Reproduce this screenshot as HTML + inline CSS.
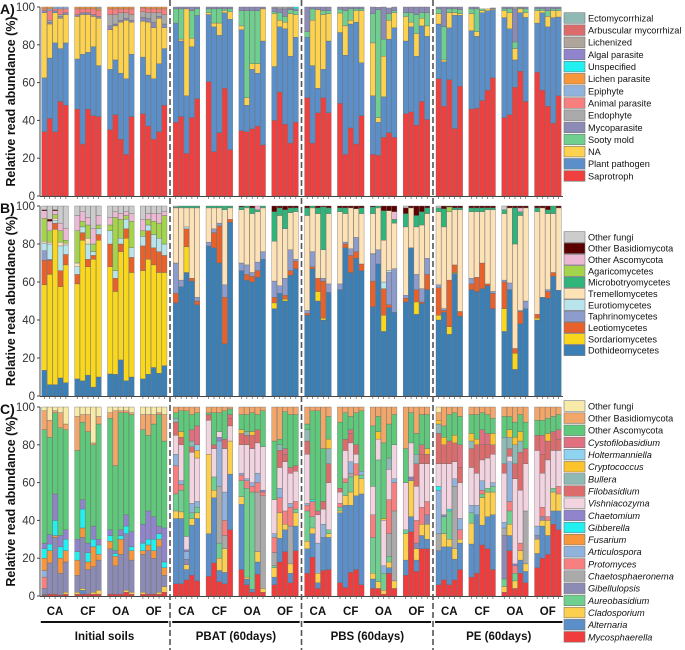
<!DOCTYPE html>
<html><head><meta charset="utf-8"><style>
html,body{margin:0;padding:0;background:#fff;}
svg{display:block;font-family:"Liberation Sans",Arial,sans-serif;}
</style></head><body>
<svg id="chart" width="685" height="650" viewBox="0 0 685 650" xmlns="http://www.w3.org/2000/svg"></svg>
<script>
// ---------- Panel A (functional guilds) ----------
const catsA = ["Saprotroph","Plant pathogen","NA","Sooty mold","Mycoparasite","Endophyte","Animal parasite","Epiphyte","Lichen parasite","Unspecified","Algal parasite","Lichenized","Arbuscular mycorrhizal","Ectomycorrhizal"];
const colorsA = ["#f03f3f","#5b8fc9","#fcd24f","#6fcf8f","#8b8bb5","#aaaaaa","#f77f7f","#8fb3dc","#f7963a","#22f0f0","#9085cc","#b0a59b","#dc6b6b","#8fb9b5"];
const saprotroph = [34,41,34,50,48, 46,27.5,46,42.5,42, 35,43,30,22,42, 43.5,37,30,34,48, 39,42,22.5,41.5,51.5, 60.5,23.5,33.5,57,24.5, 34.5,34,35.5,37,27, 40,55,38,28,39, 52,28,44,52,44, 49,22,36,27.5,42.5, 22,21.5,31,33.5,31, 43.5,44.5,37.5,50,40.5, 62,47.5,61.5,35.7,58, 46,46.5,50.5,56,62.5, 41.5,43,57.5,66,50, 65.5,56,47.5,38.5,53];
const plantPathogen = [28.5,32,47,28,33, 26.5,47.5,30,36.5,27, 32,29,35,40,33, 30,27,32,36,30, 52.5,40,30.5,37.5,44, 35.5,66,51.5,40,69, 53.5,14,31.5,28,55, 28.5,34.5,50.5,46,45, 32,41,13,15,38, 37.5,52.5,55,64.5,28, 31,17.5,21.5,49.5,58, 38.5,45,36.5,40,44, 29,23.5,27.5,59.9,37.6, 41.5,38,46.5,42,36, 52.9,45.5,14.5,31,44.5, 26,41,42,55.9,41.7];
const naGuild = [34.5,18,16,16,15, 22.5,21,20,16,25, 21,18,27,31,17, 19,28,27,24,11, 0,1,46,4.5,0, 1,2,6.5,1,4, 2,4,3,5,17, 28,3.5,3.5,22.5,12, 0,24,41.5,29,14.5, 10.3,15.5,2,6,27.5, 28,2.5,21.5,10,8, 13,2.5,12,4,5.5, 5.5,1,8,1.4,0.9, 9,2.5,1,1,0.5, 3.6,8.5,6,2,2.5, 6.5,1,5.5,3.6,3.3];
const sootyMold = [0,0,0,0,0, 0,0,0,0,0, 0,0,0,0,0, 0,0,0,0,0, 7.5,16,0,14.5,3.5, 2,7.5,7.5,1,1.5, 8,46,28,28,0, 1,4,3,2,2, 3,6,0,2,1.5, 2,8,6,1,1, 15.5,57,9,3.5,1, 2,5,10,3,7, 2.5,17.5,2,2,2, 2.5,12,1,0,0, 1,2,3.5,0.5,2, 1,1,3,1,1];
const mycoparasite = [1,1,1,1,1, 1,1,1,1,1, 2,1,1,1,1, 2,2,3,1,2, 1,1,1,2,1, 1,1,1,1,1, 2,2,2,2,1, 2,2,4,1,1, 13,1,1.5,2,2, 1.2,2,1,1,1, 3.5,1.4,17,3,2.5, 3,3,4,3,3, 1,10.5,1,1,1.5, 1,1,0,0,0.5, 1,1.5,17.5,0.5,1, 1,1,2,1,1];
const endophyte = [0,1,0,1,0, 0,0,0,0,0, 6,5,4,3,3, 3,3,5,2,5, 0,0,0,0,0, 0,0,0,0,0, 0,0,0,0,0, 0.5,1,1,0.5,0, 0,0,0,0,0, 0,0,0,0,0, 0,0,0,0,0, 0,0,0,0,0, 0,0,0,0,0, 0,0,0,0,0, 0,0,1,0,0, 0,0,0,0,0];
const animalParasite = [1,5,1,3,2, 3,2,2,3,3, 3,3,2,2,3, 2,2,2,2,3, 0,0,0,0,0, 0,0,0,0,0, 0,0,0,0,0, 0,0,0,0,0, 0,0,0,0,0, 0,0,0,0,0, 0,0,0,0,0, 0,0,0,0,0, 0,0,0,0,0, 0,0,0,0,0, 0,0,0,0,0, 0,0,0,0,0];
const epiphyte = [0,1,1,1,1, 0,0,0,0,0, 0,0,0,0,0, 0,0,0,0,0, 0,0,0,0,0, 0,0,0,0,0, 0,0,0,0,0, 0,0,0,0,0, 0,0,0,0,0, 0,0,0,0,0, 0,0,0,0,0, 0,0,0,0,0, 0,0,0,0,0, 0,0,0,0,0, 0,0,0,0,0, 0,0,0,0,0];
const lichenParasite = [1,1,0,0,0, 1,1,1,1,1, 1,1,1,1,1, 0.5,1,1,1,1, 0,0,0,0,0, 0,0,0,0,0, 0,0,0,0,0, 0,0,0,0,0, 0,0,0,0,0, 0,0,0,0,0, 0,0,0,0,0, 0,0,0,0,0, 0,0,0,0,0, 0,0,0,0,0, 0,0,0,0,0, 0,0,0,0,0];
const unspecified = [0,0,0,0,0, 0,0,0,0,0, 0,0,0,0,0, 0,0,0,0,0, 0,0,0,0,0, 0,0,0,0,0, 0,0,0,0,0, 0,0,0,0,1, 0,0,0,0,0, 0,0,0,0,0, 0,0,0,0,0, 0,0,0,0,0, 0,0,0,0,0, 0,0,0,0,0, 0,0,0,0,0, 0,0,0,0,0];
const algalParasite = [0,0,0,0,0, 0,0,0,0,0, 0,0,0,0,0, 0,0,0,0,0, 0,0,0,0,0, 0,0,0,0,0, 0,0,0,0,0, 0,0,0,0,0, 0,0,0,0,0, 0,0,0,0,0, 0,0,0,0,0, 0,0,0,0,0, 0,0,0,0,0, 0,0,0,0,0, 0,0,0,0,0, 0,0,0,0,0];
const lichenized = [0,0,0,0,0, 0,0,0,0,1, 0,0,0,0,0, 0,0,0,0,0, 0,0,0,0,0, 0,0,0,0,0, 0,0,0,0,0, 0,0,0,0,0, 0,0,0,0,0, 0,0,0,0,0, 0,0,0,0,0, 0,0,0,0,0, 0,0,0,0,0, 0,0,0,0,0, 0,0,0,0,0, 0,0,0,0,0];
const arbuscular = [0,0,0,0,0, 0,0,0,0,0, 0,0,0,0,0, 0,0,0,0,0, 0,0,0,0,0, 0,0,0,0,0, 0,0,0,0,0, 0,0,0,0,0, 0,0,0,0,0, 0,0,0,0,0, 0,0,0,0,0, 0,0,0,0,0, 0,0,0,0,0, 0,0,0,0,0, 0,0,0,0,0, 0,0,0,0,0];
const ectomycorrhizal = [0,0,0,0,0, 0,0,0,0,0, 0,0,0,0,0, 0,0,0,0,0, 0,0,0,0,0, 0,0,0,0,0, 0,0,0,0,0, 0,0,0,0,0, 0,0,0,0,0, 0,0,0,0,0, 0,0,0,0,0, 0,0,0,0,0, 0,0,0,0,0, 0,0,0,0,0, 0,0,0,0,0, 0,0,0,0,0];
const seriesA = [saprotroph,plantPathogen,naGuild,sootyMold,mycoparasite,endophyte,animalParasite,epiphyte,lichenParasite,unspecified,algalParasite,lichenized,arbuscular,ectomycorrhizal];

// ---------- Panel B (classes) ----------
const catsB = ["Dothideomycetes","Sordariomycetes","Leotiomycetes","Taphrinomycetes","Eurotiomycetes","Tremellomycetes","Microbotryomycetes","Agaricomycetes","Other Ascomycota","Other Basidiomycota","Other fungi"];
const colorsB = ["#3a7fb5","#f9d71c","#e8602a","#8c9ccc","#b8e4ec","#fde2b8","#2fb57a","#a3d44c","#ecb8d4","#5a0000","#cccccc"];
const dothideomycetes = [13.5,6,6,9.5,7, 9,8,11,4.7,10, 11.6,11.4,19,8,10, 9,11.5,15,12,16, 49,57.5,65,60.5,48, 79,78,70,27.5,91.5, 66,61,60,62.5,72, 46,54,50,63.5,67, 42.5,67,50,40,54.5, 56,78,65,72.5,66, 47,69.5,34,46.5,44, 49.5,78,43,48.7,56, 40,44,32.5,64.5,42, 56,55,56.5,58,46, 34,56,14,38,46, 40,52,51.5,63,55.7];
const sordariomycetes = [45,58,81.7,48,62, 50,74,57,67.3,72, 56.4,43.6,57,75,55, 57,60.5,54,53,49, 0,0,13.5,0,0, 0,0,0,0,0, 0,0,0,0,0, 3,0,1,0,0, 0,0,5,1,0, 0,0,0,0,0, 0,0,8.5,0,0, 0,0,6.5,0,0, 2.5,0,4,0.5,0, 0,0,0,0,0, 12,0,8.5,0,0, 1,0,0,0,0];
const leotiomycetes = [13,7.5,3.3,8.5,5.5, 5,4,4,2,3, 12,7,4,5,8, 13,15,9,11,9, 5,0,9.5,1.5,2, 0,8,19.5,24.5,1.5, 0,3,3,3.5,0, 3,0,2,2.5,4, 1,1,7,19.5,0, 0,2,9,3.5,3.5, 13.5,0,14,1.5,0, 2,0,6.5,0.8,8, 14.5,1,24.5,4,2.5, 3,7.5,13.5,1,8, 14,0,2.5,6.5,0, 2,0,3.5,2,0];
const taphrinomycetes = [5,0.5,0,0,0, 0,0,0,0,0, 0,0,0,0,0, 0,0,0,0,0, 16,3.5,0,0,2, 2,2,1.5,6.5,0, 4,5,2,4.5,4, 8.5,4,9,11,1, 1.5,8,0,1.5,4.5, 3,1,3.5,7.5,0, 14,7.5,0,17,23, 1.5,0,8,7,8.5, 1.5,1,0,0,0, 3,0,0,0,1, 1,3.5,0,0.5,4, 0,0,1,0,0];
const eurotiomycetes = [4,8,1.5,13,5, 4,3,8,2,3, 7,4,3,5,5, 5,3,7,7,6, 0,0,1,0,0, 0,0,0,0,0, 0,0,0,0,0, 0,0,0,0,0, 0,0,0,0,0, 0,0,0,0,0, 0.5,0,3.5,1,0, 0,0,0,0,0, 0,0,0,0,0, 0,0,0,0,0, 0,0,0,0,0, 0,0,0,0,0];
const tremellomycetes = [1,1,1,2,1, 2,0,3,0,0, 0,0,0,0,0, 0,0,0,0,0, 29,38,10,37,47, 18,11,8,39.5,6, 28,30,31,26.5,23, 21,37,26,19.5,25, 50,23,34,15,37, 38,15,21.5,15,26.5, 21,22,22,31.5,24, 36,21,25,33.5,23.5, 38.5,43,36,29,53.5, 35,34.5,27,39,43, 35,39.5,55,50,49, 54,47,40,31,43.3];
const microbotryomycetes = [0,0,0,0,0, 0,0,0,0,0, 0,0,0,0,0, 0,0,0,0,0, 0.5,1,1,1,1, 1,1,1,2,1, 1.5,1,3,1,1, 15.5,4,10,2.5,2, 4,1,3,22.5,3, 2,3,0,0,3, 3.5,1,15.5,0,2, 7,0,6,7,3, 2,9.5,0,1,1, 2,2,2,1,1, 2,0,19,2,0, 2,0,2,4,0];
const agaricomycetes = [12,6,2,6,1.5, 17,3,7,4,2, 3,28,10,2,14, 3,3,7,8,15, 0,0,0,0,0, 0,0,0,0,0, 0,0,0,0,0, 0,0,0,0,0, 0,0,0,0,0, 0,0,0,0,0, 0,0,0,0,0, 0,0,0,0,0, 0,0,2.5,0,0, 0,0,0,0,0, 0,0,0,0,0, 0,0,0,0,0];
const otherAscomycotaB = [4,5,2,4,6, 8,5,4,8,5, 4,3,3,2,4, 6,3,4,5,2, 0,0,0,0,0, 0,0,0,0,0, 0,0,0,2,0, 0,0,0,0,0, 0,0,0,0,0, 0,0,0,0,0, 0,0,0,0,4, 0,0,0,0,0, 0,0,0,0,0, 0,0,0,0,0, 0,0,0,2,0, 0,0,0,0,0];
const otherBasidiomycotaB = [0.5,1,0.5,0,0, 0,0,0,0,0, 0,0,0,0,0, 0,0,0,0,0, 0,0,0,0,0, 0,0,0,0,0, 0.5,0,1,0,0, 3,1,2,1,1, 1,0,1,0.5,1, 1,1,1,1.5,1, 0.5,0,2.5,2.5,3, 3,1,5,3,1, 0,1.5,0.5,1,1, 1,1,1,1,1, 0,1,1,1,1, 1,1,2,0,1];
const otherFungiB = [2,7,2,9,12, 5,3,6,12,5, 6,3,4,3,4, 7,4,4,4,3, 0.5,0,0,0,0, 0,0,0,0,0, 0,0,0,0,0, 0,0,0,0,0, 0,0,0,0,0, 0,0,0,0,0, 0,0,0,0,0, 1,0,0,0,0, 1,0,0,0,0, 0,0,0,0,0, 2,0,0,0,0, 0,0,0,0,0];
const seriesB = [dothideomycetes,sordariomycetes,leotiomycetes,taphrinomycetes,eurotiomycetes,tremellomycetes,microbotryomycetes,agaricomycetes,otherAscomycotaB,otherBasidiomycotaB,otherFungiB];

// ---------- Panel C (genera) ----------
const catsC = ["Mycosphaerella","Alternaria","Cladosporium","Aureobasidium","Gibellulopsis","Chaetosphaeronema","Protomyces","Articulospora","Fusarium","Gibberella","Chaetomium","Vishniacozyma","Filobasidium","Bullera","Cryptococcus","Holtermanniella","Cystofilobasidium","Other Ascomycota","Other Basidiomycota","Other fungi"];
const colorsC = ["#f03c3c","#5b8fc9","#fcd04e","#6fcf8f","#8b8bb5","#aaaaaa","#f77f7f","#8fb3dc","#f7963a","#22f0f0","#9085cc","#f2d3e0","#dc6b6b","#8fb9b5","#fbc42c","#8fd3f0","#e07080","#5ec97a","#f2a66a","#f8eaa8"];
const mycosphaerella = [0.5,1,1,0.5,1, 1,1,1,1,1, 1,1,1,2,1, 1,1,1,1,2, 6.5,6.5,8.5,11,8, 10.5,17.5,7.5,6.5,35, 14,6,2,11.5,2, 6,18,23.5,7,24, 12,20.5,4,13.5,14, 7,4.5,12.5,14,6, 4,4,1,12,4, 11,34,13,25,25, 6,8.5,6,8.5,14, 10,12,27,25,14, 2,24,4,12,7, 15,20,22,38,35];
const alternaria = [0.5,0,0,0,0, 0,2,0,0,0, 0,0,0,0,0, 0,0,0,0,0, 34.5,34.5,5.5,26.5,33, 22.5,34.5,6,6,29.5, 34.5,3,1.5,6.5,0, 4,12.5,11.5,5,13, 13,12.5,3,17.5,17, 37,43.5,35.5,39,48, 5,0,0,3,0, 8,8,6,7,5, 18,17.5,20,11,14, 17.5,31,10.5,17,29, 0,8,0,7,6, 7.5,17,10,7,10];
const cladosporium = [0,0,0,0,1, 1,1,0,1,2, 0,0,0,1,1, 1,0,0,1,3, 4,3.5,2.5,3.5,3, 42,4,6.5,12.5,17.5, 4,1,0,5.5,2, 5,13.5,3,5,7, 4,3,5,0,2, 1,5,7,11,8, 3,3.5,2,3,4, 14,19,6,6,8, 0,7,4,5.5,2, 11,0,14.5,13,12, 3,6,4,5,4, 7.5,3,8,10,9];
const aureobasidium = [0,0,0,0,0, 0,0,0,0,0, 0,0,0,0,0, 0,0,0,0,0, 9,11.5,0,3,3, 0,7,8,0,0, 8.5,47,51.5,0,0, 1,0,0,0,2, 16,6,0,0,2, 2,7,8,0,2, 19,64.5,9,3,0, 2,0,0,0,0, 0,9,15,0,0, 5.5,0,2,2,3, 4,7,4,0,0, 0,0,0,2,0];
const gibellulopsis = [3,16.5,30,11.5,16, 9,27,13,13.5,16, 24,15,21,30,17, 20,23,19,24,6, 0,0,3,0,0, 0,0,0,0,0, 0,0,0,0,0, 0,0,0,0,0, 0,0,0,0,0, 0,0,0,0,0, 0,0,0,0,0, 0,1,3,0,5, 0,0,0,0,0, 0,0,0,0,0, 23,0,0,0,0, 2,2,0,0,0];
const chaetosphaeronema = [0,0,0,0,0, 0,0,0,0,0, 0,0,0,0,0, 0,0,0,0,0, 0,0,0,0,0, 0,0,30,7,0, 0,0,0,31.5,49, 7,0,0,20,0, 0,0,0,0,0, 0,0,2,0,0, 0,0,0,12,37, 0,0,0,0,0, 9,0,0,33,0, 0,0,0,0,0, 4,0,0,0,28, 0,0,0,0,0];
const protomyces = [6,0,0,0,0, 0,0,0,0,0, 0,0,0,0,0, 0,0,0,0,0, 15,3,0,0,0, 0,0,0,8,0, 3,4,3,5,2, 8,8,7,10,4, 3,8,0,0,0, 2,2,0,6,0, 12,0,0,18,15, 0,0,12,9,7, 0,0,0,0,5, 0,0,2,0,0, 0,5,4,4,0, 0,5,2,0,4];
const articulospora = [3.5,0,0,0,0, 0,0,0,0,0, 0,0,0,0,0, 0,0,0,0,0, 6,2,4,5,3, 0,0,24,15,0, 1,1,2,5,0, 2,5,0,2,0, 1,0,16,7,0, 0,0,6,0,2, 0,0,4,0,2, 0,0,0,0,0, 23,0,0,4,6, 4,5,5,0,2, 3,21,0,0,0, 5,0,0,0,0];
const fusarium = [6.5,6.5,1,8,6, 8,5,4,10.5,3, 4,5,8,0,5, 2,3,4,4,4, 0,0,0,0,0, 0,0,0,0,0, 0,0,0,0,0, 0,0,0,0,0, 0,0,0,0,0, 0,0,0,0,0, 0,0,0,0,0, 0,0,0,0,0, 0,0,0,0,0, 0,0,0,0,0, 0,0,0,0,0, 0,0,0,0,0];
const gibberella = [5,3.5,8,6,6, 4.5,10,5,4,5, 3,1.5,2,4,2, 4,3,6,3,3, 0,0,0,0,0, 0,0,0,0,0, 0,0,0,0,0, 0,0,0,0,0, 0,1,0,0,0, 0,0,0,0,0, 0,0,0,0,0, 0,0,0,0,0, 2,0,1,0,0, 0,0,0,0,0, 0,0,0,0,0, 0,0,0,0,0];
const chaetomium = [3,5,14,6,5, 6.5,5,5,7,3, 3,1.5,3,6,8, 10,15,12,4,18, 0,0,1,0,0, 0,0,2,0,0, 0,0,0,0,1, 0,0,0,0,0, 0,0,0,0,0, 0,0,0,0,0, 0,0,0,0,0, 0,1,0,0,0, 0,1,0,0,0, 0,0,0,0,0, 0,0,1,0,0, 0,0,0,0,0];
const vishniacozyma = [0,0,0,0,0, 0,0,0,0,0, 0,0,0,0,0, 0,0,0,0,0, 10,19,7,27,23, 18,15,3,23,8, 15,18,18,16,23, 18,11,26,16,16, 26,0,15,8,25, 6,15,10,5,0, 15,11,24,16,18, 25,18,18,23,20, 12,27,24,9,19, 20,17,11,16,15, 26,3,45,28,25, 40,18,30,20,19];
const filobasidium = [0,0,0,0,0, 0,0,0,0,0, 0,0,0,0,0, 0,0,0,0,0, 7,4,0,3,0, 3,2,0,5,4, 6,5,7,7,0, 0,9,4,0,3, 7,0,0,4,10, 2,6,5,5,0, 0,0,0,0,0, 0,0,12,5,5, 16,10,12,10,8, 10,15,8,7,5, 5,4,8,20,8, 8,10,10,10,6];
const bullera = [0,0,0,0,0, 0,0,0,0,0, 0,0,0,0,0, 0,0,0,0,0, 2,0,0,3,0, 0,0,0,0,0, 0,2,0,0,0, 0,3,0,0,0, 6,0,0,0,8, 0,0,0,0,0, 0,0,0,6,0, 0,0,5,0,0, 5,0,0,0,0, 4,0,0,0,0, 14,6,10,6,0, 0,0,0,0,0];
const cryptococcus = [0,0,0,0,0, 0,0,0,0,0, 0,0,0,0,0, 0,0,0,0,0, 0,3,0,0,4, 0,0,0,0,0, 2,0,2,0,0, 0,0,0,0,0, 0,0,0,0,5, 0,0,0,0,0, 0,4,1,0,0, 0,0,0,0,3, 2,4,0,4,0, 4,3,0,0,6, 0,4,4,5,0, 0,0,4,0,0];
const holtermanniella = [0,0,0,0,0, 0,0,0,0,0, 0,0,0,0,0, 0,0,0,0,0, 0,0,0,0,3, 0,0,0,0,0, 0,0,0,0,0, 0,0,0,0,0, 0,0,0,0,0, 0,0,0,0,0, 0,0,0,0,0, 0,0,0,0,0, 0,0,0,0,0, 0,0,0,0,0, 0,0,0,0,0, 0,0,0,0,0];
const cystofilobasidium = [0,0,0,0,0, 0,0,0,0,0, 0,0,0,0,0, 0,0,0,0,0, 0,0,0,6,10, 0,0,0,0,2, 0,0,0,0,0, 0,0,3,3,0, 0,0,2,0,0, 0,0,2,0,0, 0,0,0,0,0, 0,0,0,5,0, 0,0,0,0,12, 0,0,8,6,0, 0,0,0,0,0, 0,10,0,0,5];
const otherAscomycotaC = [60,51.5,43,57,53, 47,41,59,43,61, 59,45,62,54,62, 50,40,49,59,46, 3,11,66.5,8,7, 1,17,10,15,3, 8,9,10,8,19, 31,3,19.5,28,27, 3,47,53,28,12, 35,14,7,17,32, 32,8,40,18,16, 18,16,11,16,18, 0,6,14,12,15, 10,13,9,10,8, 11,7,8,9,14, 8,8,8,8,8];
const otherBasidiomycotaC = [10,9,1,8,3, 18,4,9,1,4, 3,29,1,1,1, 8,11,5,1,14, 3,2,2,4,3, 3,3,3,2,1, 4,4,3,4,2, 18,17,2.5,4,4, 9,2,2,22,5, 8,3,5,3,2, 10,5,19,9,4, 22,3,14,4,4, 4,10,4,3,5, 4,4,3,4,6, 5,5,8,4,8, 7,7,6,5,4];
const otherFungiC = [2,7,2,3,9, 5,4,4,19,5, 3,2,2,2,3, 4,4,4,3,4, 0,0,0,0,0, 0,0,0,0,0, 0,0,0,0,0, 0,0,0,0,0, 0,0,0,0,0, 0,0,0,0,0, 0,0,0,0,0, 0,0,0,0,0, 3,0,0,0,0, 0,0,0,0,0, 0,0,0,0,0, 0,0,0,0,0];
const seriesC = [mycosphaerella,alternaria,cladosporium,aureobasidium,gibellulopsis,chaetosphaeronema,protomyces,articulospora,fusarium,gibberella,chaetomium,vishniacozyma,filobasidium,bullera,cryptococcus,holtermanniella,cystofilobasidium,otherAscomycotaC,otherBasidiomycotaC,otherFungiC];

const subgroups = ["CA","CF","OA","OF"];
const treatments = ["Initial soils","PBAT (60days)","PBS (60days)","PE (60days)"];
const yTicks = [0,20,40,60,80,100];
const barsPerSub = 5;

const NS = "http://www.w3.org/2000/svg";
const svg = document.getElementById("chart");
function mk(tag, attrs, parent){ const e=document.createElementNS(NS,tag); for(const k in attrs) e.setAttribute(k,attrs[k]); (parent||svg).appendChild(e); return e; }

const X0 = 41.8, SUBW = 32.85, BARSTEP = 5.38, BARW = 5.1;
function xBar(i){ const sg=Math.floor(i/barsPerSub), j=i%barsPerSub; return X0 + sg*SUBW + j*BARSTEP; }
function subCenter(sg){ return X0 + sg*SUBW + (barsPerSub*BARSTEP)/2 - 0.2; }

function drawPanel(key, label, y0, y100, cats, colors, series, legendY, legendStep, italicFrom){
  const g = mk("g",{});
  
  
  const yS = v => y0 - (y0-y100)*v/100;
  const ax = mk("line",{x1:40,y1:y100,x2:40,y2:y0+0.5,stroke:"#444","stroke-width":1},g);
  
  
  const bx = mk("line",{x1:40,y1:y0+0.5,x2:563,y2:y0+0.5,stroke:"#444","stroke-width":1},g);
  
  
  yTicks.forEach(t=>{
    const y=yS(t);
    mk("line",{x1:37,y1:y,x2:40,y2:y,stroke:"#444","stroke-width":1},g);
    const tx = mk("text",{x:35,y:y+4,"text-anchor":"end","font-size":"11.5",fill:"#333"},g);
    tx.textContent = t;
    
    
  });
  const n = series[0].length;
  for(let i=0;i<n;i++){
    const x = xBar(i);
    mk("line",{x1:x+BARW/2,y1:y0+0.5,x2:x+BARW/2,y2:y0+3,stroke:"#444","stroke-width":0.6},g);
    let cum = 0;
    series.forEach((s,si)=>{
      const v = s[i]; if(!v) return;
      const yt = yS(Math.min(100,cum+v)), yb = yS(cum);
      cum += v;
      const r = mk("rect",{x:x,y:yt,width:BARW,height:Math.max(0,yb-yt),fill:colors[si],stroke:"#666","stroke-width":0.35},g);
      
      
    });
  }
  const yt = mk("text",{x:0,y:0,transform:"translate(15,"+((y0+y100)/2)+") rotate(-90)","text-anchor":"middle","font-size":"12.5","font-weight":"bold",fill:"#111"},g);
  yt.textContent = "Relative read abundance (%)";
  
  
  const pl = mk("text",{x:0,y:y100+7,"font-size":"14","font-weight":"bold",fill:"#111"},g);
  pl.textContent = label;
  
  
  const lg = mk("g",{},g);
  
  
  const nc = cats.length;
  for(let r=0;r<nc;r++){
    const si = nc-1-r;
    const cy = legendY + r*legendStep;
    const sw = mk("rect",{x:564,y:cy-5.3,width:21,height:10.6,fill:colors[si],stroke:"#777","stroke-width":0.6},lg);
    
    
    const t = mk("text",{x:588,y:cy+3.4,"font-size":"9.2",fill:"#111"},lg);
    if(italicFrom!==null && si<italicFrom) t.setAttribute("font-style","italic");
    t.textContent = cats[si];
    
    
  }
}

drawPanel("a","A)",196,7,catsA,colorsA,seriesA,18,12.15,null);
drawPanel("b","B)",396,206,catsB,colorsB,seriesB,237,11.33,null);
drawPanel("c","C)",596,407,catsC,colorsC,seriesC,406,12.15,17);

for(let sg=0; sg<16; sg++){
  const t = mk("text",{x:subCenter(sg),y:615,"text-anchor":"middle","font-size":"11.5","font-weight":"bold",fill:"#111"});
  t.textContent = subgroups[sg%4];
  
  
}
treatments.forEach((tr,gi)=>{
  const xs = X0 + gi*4*SUBW - 1, xe = X0 + (gi*4+3)*SUBW + barsPerSub*BARSTEP + 1;
  const l = mk("line",{x1:xs,y1:622,x2:xe,y2:622,stroke:"#111","stroke-width":2});
  
  
  const t = mk("text",{x:(xs+xe)/2,y:640,"text-anchor":"middle","font-size":"11.5","font-weight":"bold",fill:"#111"});
  t.textContent = tr;
  
  
});
[170,301.5,433].forEach(x=>{
  const l = mk("line",{x1:x,y1:0,x2:x,y2:650,stroke:"#555","stroke-width":1.6,"stroke-dasharray":"6,3"});
  
  
});
</script>
</body></html>
